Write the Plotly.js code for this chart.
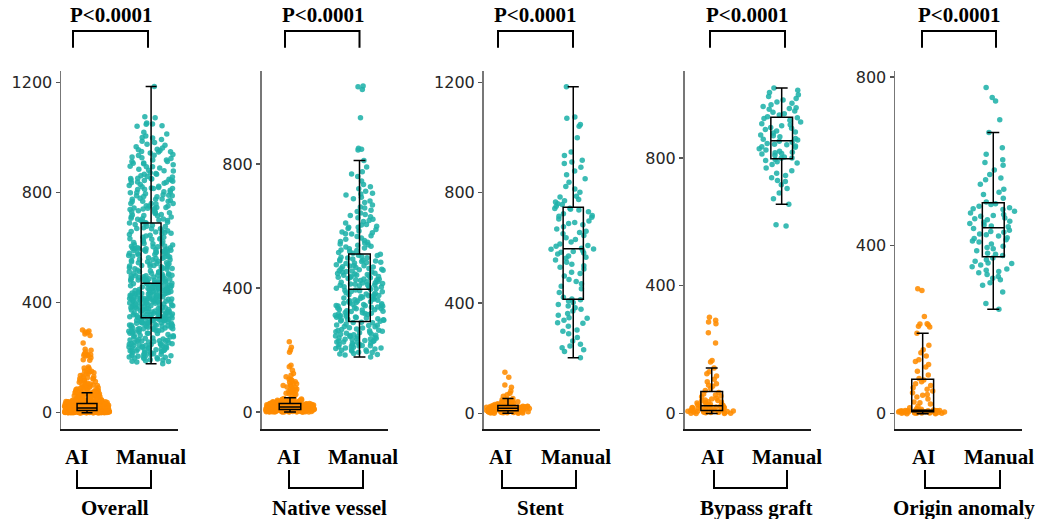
<!DOCTYPE html>
<html><head><meta charset="utf-8">
<script src="https://cdn.plot.ly/plotly-3.0.1.min.js"></script>
<style>html,body{margin:0;padding:0;background:#fff}#chart{width:1044px;height:519px}</style>
</head><body><div id="chart"></div>
<script>
// ---------------- data ----------------
const panelTitles = ['Overall', 'Native vessel', 'Stent', 'Bypass graft', 'Origin anomaly'];
const groupLabels = ['AI', 'Manual'];
const pLabel = 'P&lt;0.0001';
const ticks1200 = [0, 400, 800, 1200];
const ticks800 = [0, 400, 800];

const nativeManual = [
212,186,247,231,199,268,223,205,259,178,241,217,288,226,195,252,209,276,234,189,263,219,244,201,281,228,214,256,192,238,271,207,249,222,284,197,236,261,215,243,279,203,230,254,184,266,225,290,211,239,
193,207,226,248,264,280,187,218,235,257,272,289,200,229,245,262,213,237,251,275,
305,347,296,372,318,359,331,388,301,342,367,314,353,325,381,298,337,362,309,349,376,321,344,293,368,334,356,312,385,327,303,351,339,378,316,364,299,345,329,391,307,358,336,373,320,348,311,383,341,394,
297,315,333,352,370,389,306,324,343,361,379,294,319,338,357,375,392,308,330,366,
402,447,419,488,431,462,398,475,441,506,415,456,433,497,409,468,426,482,451,437,399,471,413,459,494,428,444,405,479,466,421,502,438,453,411,486,429,473,448,417,499,435,461,407,483,424,457,442,491,404,
396,412,427,445,463,481,498,403,420,439,455,472,490,505,416,434,452,469,487,410,
512,538,596,627,548,661,523,584,712,569,634,518,693,557,745,603,527,676,589,811,542,651,615,532,703,574,642,760,553,610,529,688,596,727,561,622,515,790,647,578,845,851,848,949,1040,1049,668,545,592,720,
509,521,535,550,566,581,599,618,637,658,681,706,734,768,540,575,605,630,700,775,1052
];
const nativeAI = [
3,0,6,2,7,1,5,4,8,2,0,6,3,7,1,5,8,4,2,6,0,3,7,5,1,8,4,6,2,3,7,0,5,1,8,4,6,3,2,7,5,0,4,8,1,6,3,7,2,5,
4,1,7,3,6,0,8,2,5,4,6,1,3,7,2,8,5,0,4,6,
9,13,11,15,10,14,12,16,9,13,11,15,10,12,14,16,9,11,13,15,10,12,14,9,16,11,13,10,15,12,14,9,11,16,13,10,15,12,14,11,9,13,16,10,12,15,14,11,13,16,
12,10,15,13,9,16,11,14,10,13,15,12,9,14,16,11,13,10,15,12,
17,22,19,25,18,21,26,20,24,17,23,19,27,21,18,25,22,20,26,17,24,19,23,21,18,27,20,25,22,17,19,24,26,21,18,23,20,27,22,25,19,17,24,21,26,18,23,20,22,25,
18,23,20,26,21,17,24,19,25,22,27,20,18,23,21,26,19,24,22,17,
29,34,31,42,28,37,33,46,30,39,35,28,44,32,36,30,41,29,38,33,31,43,35,40,32,58,64,72,61,85,69,77,96,66,88,102,59,81,93,107,114,119,74,146,151,193,200,209,227,98,
31,36,28,40,33,45,29,38,34,42,30,57,63,70,79,86,91,105,124,135
];

const stentManual = [
202,224,238,231,251,262,275,244,289,302,316,327,298,338,345,356,362,371,378,389,395,383,402,408,412,329,347,
415,421,438,452,461,470,486,498,512,524,507,535,548,556,563,541,571,578,584,590,566,595,582,530,478,596,587,
599,606,614,622,631,645,652,661,669,677,684,692,698,705,711,718,724,731,738,743,609,637,656,689,715,740,744,
751,758,767,776,785,802,814,823,838,851,866,879,893,906,918,935,948,912,1000,1042,1048,1071,1075,1185,771,788,760
];
const stentAI = [
2,5,8,0,4,7,9,1,6,3,8,5,2,9,4,7,1,6,3,8,0,5,9,2,7,4,6,
10,14,12,17,11,15,13,18,16,10,14,12,17,11,15,13,18,16,10,12,14,17,11,13,15,18,16,
19,23,21,26,20,25,22,28,24,19,27,21,23,20,26,22,25,28,19,24,21,27,23,20,26,22,25,
29,33,31,38,30,42,35,47,32,40,36,54,44,37,49,34,41,45,51,62,67,73,81,95,103,131,149
];

const bypassManual = [
587,591,655,672,690,704,716,729,738,745,752,760,768,779,784,788,792,795,726,
799,803,808,812,816,821,825,829,833,837,841,845,849,852,800,818,835,843,814,
856,861,866,872,878,884,889,895,901,907,912,918,923,926,858,869,881,893,904,
929,934,938,943,947,952,957,961,966,971,975,981,986,992,998,1005,1012,1019,955
];
const bypassAI = [
2,6,0,8,4,1,7,3,9,5,2,8,0,6,4,9,1,7,5,
10,15,12,19,22,11,17,14,21,13,18,20,16,23,11,15,19,12,22,
25,31,28,36,42,27,48,33,55,39,61,45,29,52,37,66,41,58,34,
72,78,85,93,99,88,107,117,124,131,142,161,166,221,253,281,286,292,301
];

const originManual = [
248,262,289,305,311,318,326,331,338,344,349,353,358,362,366,370,341,322,357,335,
376,381,387,392,398,403,408,413,418,422,427,431,436,440,395,410,425,379,433,416,
444,448,452,457,461,465,469,473,477,481,485,489,493,497,499,455,471,487,446,463,
503,512,521,533,545,556,568,579,590,597,603,616,632,668,698,743,751,775,526,560
];
const originAI = [
1,3,0,4,2,5,1,3,4,2,0,5,3,1,4,2,5,3,4,2,
5,6,7,8,6,5,7,6,8,7,5,6,8,7,6,5,7,8,6,7,
9,11,14,18,23,28,35,40,46,50,54,58,62,67,71,76,80,12,26,44,
84,92,101,111,117,124,128,137,145,152,163,191,206,208,211,213,214,231,293,297
];

// Overall = all four categories pooled
const overallAI = nativeAI.concat(stentAI, bypassAI, originAI);
const overallManual = nativeManual.concat(stentManual, bypassManual, originManual);

const seriesAI = [overallAI, nativeAI, stentAI, bypassAI, originAI];
const seriesManual = [overallManual, nativeManual, stentManual, bypassManual, originManual];
const panelTicks = [ticks1200, ticks800, ticks1200, ticks800, ticks800];

// ---------------- layout geometry (pixels) ----------------
const W = 1044, H = 519;
const PX = x => x / W, PY = y => 1 - y / H;
const geo = [
  {xd:[61,178],    xr:[-0.406,1.42],  yr:[-57,1241], pBr:[73,148],  pText:111, aiLab:76,  manLab:151, br:[77,151],  titleX:114.5},
  {xd:[261.5,388], xr:[-0.41,1.41],   yr:[-53,1100], pBr:[285,359.5],pText:323, aiLab:288, manLab:363, br:[289,363], titleX:329},
  {xd:[483.5,600], xr:[-0.375,1.41],  yr:[-55,1242], pBr:[498,573], pText:535, aiLab:500, manLab:576, br:[502,576], titleX:540},
  {xd:[684.5,811], xr:[-0.389,1.419], yr:[-47,1072], pBr:[710,785], pText:747, aiLab:712, manLab:787, br:[714,787], titleX:756},
  {xd:[895,1022],  xr:[-0.392,1.407], yr:[-35,814],  pBr:[922,996], pText:959, aiLab:923, manLab:999, br:[925,1000],titleX:964}
];
const COL_AI = 'rgba(255,140,0,0.88)';
const COL_MAN = 'rgba(32,178,170,0.88)';
const serif = {family:'"Liberation Serif","Times New Roman",serif', size:21, color:'#000', weight:'bold'};

const data = [];
const layout = {
  width: W, height: H, margin:{l:0,r:0,t:0,b:0}, showlegend:false, boxmode:'overlay',
  paper_bgcolor:'#fff', plot_bgcolor:'#fff', annotations:[], shapes:[]
};

geo.forEach((g, i) => {
  const k = i === 0 ? '' : String(i + 1);
  const xa = 'x' + k, ya = 'y' + k;
  layout['xaxis' + k] = {domain:[PX(g.xd[0]), PX(g.xd[1])], range:g.xr, anchor:ya, type:'linear',
    showline:true, linecolor:'#1a1a1a', linewidth:2.2, showgrid:false, zeroline:false,
    showticklabels:false, ticks:'', fixedrange:true};
  layout['yaxis' + k] = {domain:[PY(428.5), PY(71)], range:g.yr, anchor:xa,
    showline:true, linecolor:'#777', linewidth:1.5, showgrid:false, zeroline:false,
    tickmode:'array', tickvals:panelTicks[i], ticktext:panelTicks[i].map(String),
    ticks:'outside', ticklen:4, tickwidth:1.3, tickcolor:'#555',
    tickfont:{family:'"DejaVu Sans",sans-serif', size:16, color:'#262626'}, fixedrange:true};

  const groups = [[seriesAI[i], COL_AI, 0], [seriesManual[i], COL_MAN, 1]];
  // jittered points (library jitter)
  groups.forEach(([vals, col, pos]) => {
    data.push({type:'box', y:vals, x0:pos, width:0.7, boxpoints:'all', jitter:1, pointpos:0,
      marker:{color:col, size:5.5, line:{width:0}}, line:{width:0, color:'rgba(0,0,0,0)'},
      fillcolor:'rgba(0,0,0,0)', xaxis:xa, yaxis:ya, hoverinfo:'y', showlegend:false});
  });
  // boxes on top (whiskers at 1.5 IQR; outlier markers hidden)
  groups.forEach(([vals, col, pos]) => {
    data.push({type:'box', y:vals, x0:pos, width:0.31, boxpoints:'outliers', pointpos:0, jitter:0,
      marker:{size:0.1, opacity:0, color:'rgba(0,0,0,0)'}, whiskerwidth:0.55,
      line:{color:'#000', width:1.5}, fillcolor:'rgba(0,0,0,0)', xaxis:xa, yaxis:ya,
      hoverinfo:'skip', showlegend:false});
  });

  // top significance bracket + label
  layout.shapes.push({type:'path', xref:'paper', yref:'paper',
    path:`M ${PX(g.pBr[0])},${PY(47.7)} L ${PX(g.pBr[0])},${PY(31)} L ${PX(g.pBr[1])},${PY(31)} L ${PX(g.pBr[1])},${PY(47.7)}`,
    line:{color:'#000', width:2}});
  layout.annotations.push({xref:'paper', yref:'paper', x:PX(g.pText), y:PY(15), text:pLabel,
    showarrow:false, xanchor:'center', yanchor:'middle', font:serif});
  // group labels
  layout.annotations.push({xref:'paper', yref:'paper', x:PX(g.aiLab), y:PY(457), text:groupLabels[0],
    showarrow:false, xanchor:'center', yanchor:'middle', font:serif});
  layout.annotations.push({xref:'paper', yref:'paper', x:PX(g.manLab), y:PY(457), text:groupLabels[1],
    showarrow:false, xanchor:'center', yanchor:'middle', font:serif});
  // bottom bracket + panel title
  layout.shapes.push({type:'path', xref:'paper', yref:'paper',
    path:`M ${PX(g.br[0])},${PY(470)} L ${PX(g.br[0])},${PY(488)} L ${PX(g.br[1])},${PY(488)} L ${PX(g.br[1])},${PY(470)}`,
    line:{color:'#000', width:2}});
  layout.annotations.push({xref:'paper', yref:'paper', x:PX(g.titleX), y:PY(508), text:panelTitles[i],
    showarrow:false, xanchor:'center', yanchor:'middle', font:serif});
});

Plotly.newPlot('chart', data, layout, {displayModeBar:false, staticPlot:true});
</script>
</body></html>
